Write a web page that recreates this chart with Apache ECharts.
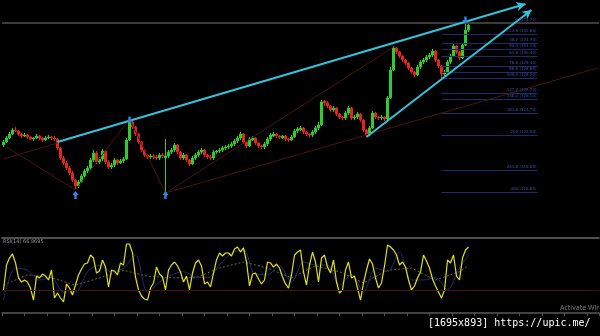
<!DOCTYPE html>
<html><head><meta charset="utf-8">
<script src="https://cdn.jsdelivr.net/npm/echarts@6/dist/echarts.min.js"></script>
<style>html,body{margin:0;padding:0;background:#000;}#c{width:600px;height:336px;}</style>
</head><body><div id="c"></div>
<script>
// bar slots (candles + empty space to the right, as on the terminal chart)
const slotCount = 199;
const categories = Array.from({length: slotCount}, (_, i) => String(i));

// candles: [open, close, low, high]
const candles = [
[121.5,121.8,121.3,122.0],[121.8,122.2,121.7,122.4],[122.2,122.6,122.1,122.8],[122.6,123.0,122.5,123.2],
[123.0,122.9,122.8,123.3],[122.9,122.6,122.4,123.0],[122.6,122.4,122.2,122.7],[122.4,122.5,122.3,122.7],
[122.5,122.3,122.1,122.6],[122.3,122.1,122.0,122.4],[122.1,122.2,121.9,122.3],[122.2,122.4,122.1,122.6],
[122.4,122.2,122.0,122.5],[122.2,122.0,121.8,122.3],[122.0,122.2,121.9,122.4],[122.2,122.3,122.1,122.5],
[122.3,122.2,122.0,122.4],[122.2,122.1,121.9,122.4],[122.1,121.2,121.0,122.2],[121.2,120.2,120.0,121.3],
[120.2,119.7,119.5,120.4],[119.7,119.2,119.0,119.9],[119.2,118.7,118.5,119.4],[118.7,118.0,117.8,118.9],
[118.0,117.4,117.1,118.1],[117.4,117.8,117.2,118.0],[117.8,118.4,117.7,118.6],[118.4,118.9,118.2,119.1],
[118.9,119.2,118.7,119.4],[119.2,120.0,119.0,120.2],[120.0,120.7,119.8,121.0],[120.7,119.8,119.6,120.9],
[119.8,120.1,119.6,120.3],[120.1,120.9,119.9,121.1],[120.9,119.8,119.6,121.0],[119.8,119.3,119.1,120.0],
[119.3,119.5,119.1,119.7],[119.5,120.0,119.3,120.2],[120.0,119.7,119.5,120.1],[119.7,119.9,119.6,120.1],
[119.9,120.1,119.7,120.3],[120.1,122.0,120.0,122.2],[122.0,123.8,121.9,124.1],[123.8,123.3,123.1,124.0],
[123.3,122.6,122.4,123.4],[122.6,121.8,121.6,122.7],[121.8,121.0,120.8,121.9],[121.0,120.5,120.3,121.1],
[120.5,120.3,120.1,120.6],[120.3,120.4,120.1,120.6],[120.4,120.3,120.1,120.6],[120.3,120.2,120.0,120.5],
[120.2,120.5,120.0,120.7],[120.5,120.4,120.2,120.7],[120.2,120.4,116.7,122.1],[120.4,120.8,120.2,121.0],
[120.8,121.0,120.6,121.2],[121.0,121.5,120.8,121.7],[121.5,120.8,120.6,121.6],[120.8,120.2,120.0,120.9],
[120.2,120.5,120.0,120.7],[120.5,120.0,119.8,120.6],[120.0,119.6,119.4,120.1],[119.6,120.2,119.5,120.4],
[120.2,120.5,120.0,120.7],[120.5,120.8,120.3,121.0],[120.8,121.0,120.6,121.2],[121.0,120.5,120.3,121.1],
[120.5,120.3,120.1,120.6],[120.3,120.2,120.0,120.5],[120.2,120.8,120.0,121.0],[120.8,120.9,120.6,121.0],
[120.9,121.0,120.7,121.2],[121.0,121.2,120.8,121.4],[121.2,121.3,121.0,121.5],[121.3,121.4,121.1,121.6],
[121.4,121.6,121.2,121.8],[121.6,121.9,121.4,122.1],[121.9,122.2,121.7,122.4],[122.2,122.6,122.0,122.8],
[122.6,121.8,121.6,122.7],[121.8,121.4,121.2,121.9],[121.4,122.1,121.3,122.3],[122.0,122.2,121.9,122.4],
[122.2,121.7,121.5,122.3],[121.7,121.4,121.2,121.8],[121.4,121.3,121.1,121.5],[121.3,121.6,121.1,121.8],
[121.6,122.1,121.4,122.3],[122.1,122.5,121.9,122.7],[122.4,122.6,122.3,122.8],[122.6,122.4,122.2,122.7],
[122.4,122.3,122.1,122.5],[122.2,122.4,122.1,122.5],[122.4,122.1,121.9,122.5],[122.1,122.0,121.8,122.2],
[122.0,122.3,121.9,122.5],[122.3,122.9,122.2,123.1],[122.9,123.1,122.7,123.3],[123.0,123.2,122.9,123.4],
[123.2,122.8,122.6,123.3],[122.8,122.6,122.4,122.9],[122.6,122.5,122.3,122.7],[122.5,122.8,122.3,123.0],
[122.8,123.2,122.6,123.4],[123.2,123.5,123.0,123.8],[123.5,125.8,123.4,126.0],[125.9,125.7,125.4,126.0],
[125.7,125.4,125.2,125.9],[125.4,125.0,124.8,125.5],[125.0,125.2,124.8,125.4],[125.2,124.6,124.4,125.3],
[124.6,124.3,124.1,124.7],[124.3,124.2,124.0,124.4],[124.2,124.7,124.0,124.9],[124.7,125.2,124.5,125.4],
[125.2,124.2,124.0,125.3],[124.2,124.3,124.0,124.5],[124.3,124.6,124.1,124.8],[124.6,124.0,123.8,124.7],
[124.0,123.0,122.8,124.1],[123.0,122.5,122.3,123.1],[122.5,123.2,122.4,123.4],[123.2,124.7,123.1,124.9],
[124.7,124.3,124.1,124.8],[124.3,124.2,124.0,124.4],[124.2,124.3,124.0,124.5],[124.3,124.1,123.9,124.4],
[124.1,126.2,124.0,126.4],[126.2,129.0,126.1,129.3],[129.0,131.2,128.9,131.4],[131.2,130.8,130.6,131.3],
[130.8,130.4,130.2,130.9],[130.4,130.0,129.8,130.5],[130.0,129.7,129.5,130.1],[129.7,129.2,129.0,129.8],
[129.2,128.8,128.6,129.3],[128.8,128.5,128.3,128.9],[128.5,129.3,128.4,129.5],[129.3,129.8,129.1,130.0],
[129.8,130.0,129.6,130.2],[130.0,130.3,129.8,130.5],[130.3,130.5,130.1,130.7],[130.5,130.9,130.3,131.1],
[130.9,130.0,129.8,131.0],[130.0,129.4,129.2,130.1],[129.4,128.6,128.2,129.5],[128.6,128.8,128.4,129.0],
[128.8,129.8,128.7,130.0],[129.8,130.4,129.6,130.6],[130.4,131.4,130.3,131.6],[131.4,130.8,130.6,131.5],
[130.8,130.2,130.0,130.9],[130.2,131.5,130.1,131.7],[131.5,133.0,131.4,133.7],[133.0,133.5,132.8,133.6]
];

// oscillator (one value per candle)
const oscValues = [
30.7,64.0,73.3,78.7,66.7,46.7,41.3,44.0,41.3,33.3,17.3,49.3,46.7,52.0,49.3,44.0,57.3,20.0,26.7,20.0,
14.7,38.7,33.3,24.0,37.3,50.7,58.7,65.3,66.7,77.3,73.3,53.3,56.0,70.7,61.3,34.7,57.3,56.0,50.7,66.7,
64.0,92.0,92.0,80.0,48.0,30.7,22.7,18.7,17.3,33.3,40.0,61.3,52.0,48.0,30.7,57.3,64.0,68.0,62.7,54.7,
41.3,49.3,30.7,53.3,66.7,70.7,62.7,38.7,41.3,34.7,53.3,70.7,80.0,76.0,80.0,80.0,76.0,85.3,88.0,81.3,
86.7,68.0,36.0,52.0,53.3,45.3,38.7,44.0,68.0,66.7,61.3,65.3,60.0,48.0,38.7,33.3,50.7,77.3,81.3,84.0,
54.7,37.3,64.0,81.3,68.0,41.3,73.3,77.3,61.3,53.3,70.7,41.3,26.7,30.7,57.3,68.0,46.7,49.3,33.3,17.3,
40.0,57.3,72.0,65.3,46.7,33.3,40.0,62.7,90.7,88.0,84.0,77.3,64.0,68.0,61.3,44.0,30.7,36.0,46.7,54.7,
77.3,69.3,60.0,45.3,36.0,28.0,20.0,30.7,70.7,66.7,77.3,49.3,44.0,73.3,84.0,88.0
];
// signal line (blue) and slow average (dashed): [bar index, value]
const signalLine = [[0,17],[4,60],[8,57],[12,44],[16,47],[20,28],[24,28],[28,55],[32,64],[36,55],[40,60],
[44,77],[48,28],[52,41],[56,51],[60,55],[64,48],[68,47],[72,64],[76,80],[80,84],[84,51],[88,51],[92,63],
[96,41],[100,68],[104,64],[108,64],[112,37],[116,51],[120,28],[124,60],[128,55],[132,81],[136,44],[140,44],
[144,47],[148,31],[152,60],[155,77]];
const slowLine = [[0,37],[8,51],[16,47],[24,37],[32,47],[40,57],[48,49],[56,47],[64,47],[72,60],[80,68],
[88,60],[96,47],[104,63],[112,55],[120,40],[128,57],[136,60],[144,44],[152,55],[155,63]];
const oscLevel = 30;

// Fibonacci levels
const fibLabels = ['0 (133.70)','23.6 (132.60)','38.2 (131.70)','50.0 (131.10)','61.8 (130.40)','78.6 (129.40)',
'88.6 (128.80)','100.0 (128.20)','127.2 (126.70)','138.2 (126.10)','161.8 (124.70)','200 (122.50)','261.8 (119.00)','300 (116.80)'];
const fibPrices = [133.70,132.60,131.70,131.10,130.40,129.40,128.80,128.20,126.70,126.10,124.70,122.50,119.00,116.80];
const fibFrom = 146, fibTo = 178;
const pricePeak = 133.70;

// trend lines and zigzag: [bar index, price]
const trendUpper = [[18,121.8],[174,135.6]];
const trendLower = [[121,122.3],[176,135.0]];
const zigzag = [
 [[0,120.1],[18,121.7]], [[1,121.3],[24,117.0]], [[24,117.0],[42,124.1]],
 [[42,124.1],[54,116.7]], [[54,116.7],[130,131.3]], [[54,116.7],[198,129.2]]
];
const upArrows = [[24,116.5],[54,116.5]];
const downMarks = [[42,124.0],[154,134.0]];

const upPath = 'path://M5,0 L10,5 L7,5 L7,10 L3,10 L3,5 L0,5 Z';
const downPath = 'path://M3,0 L7,0 L7,5 L10,5 L5,10 L0,5 L3,5 Z';

const chart = echarts.init(document.getElementById('c'), null, {renderer: 'canvas'});
const hidden = {show: false};
chart.setOption({
  animation: false,
  backgroundColor: '#000',
  grid: [
    {left: 2, width: 597, top: 0, height: 235},
    {left: 2, width: 597, top: 238, height: 75}
  ],
  xAxis: [
    {type: 'category', gridIndex: 0, data: categories, axisLine: hidden, axisTick: hidden, axisLabel: hidden, splitLine: hidden},
    {type: 'category', gridIndex: 1, data: categories, position: 'bottom',
      axisLine: {show: true, onZero: false, lineStyle: {color: '#5a5a5a', width: 1.5}}, axisTick: hidden, axisLabel: hidden, splitLine: hidden},
    {type: 'value', gridIndex: 1, min: 0, max: 199, interval: 7.5, position: 'bottom',
      axisLine: {show: false, onZero: false}, axisTick: {show: true, length: 3, lineStyle: {color: '#555'}}, axisLabel: hidden, splitLine: hidden},
    {type: 'category', gridIndex: 1, data: categories, position: 'top',
      axisLine: {show: true, onZero: false, lineStyle: {color: '#6a6a6a', width: 1.5}}, axisTick: hidden, axisLabel: hidden, splitLine: hidden}
  ],
  yAxis: [
    {type: 'value', gridIndex: 0, min: 112.5, max: 136, axisLine: hidden, axisTick: hidden, axisLabel: hidden, splitLine: hidden},
    {type: 'value', gridIndex: 1, min: 0, max: 100, axisLine: hidden, axisTick: hidden, axisLabel: hidden, splitLine: hidden}
  ],
  series: [
    { // fib lines + price line
      type: 'line', xAxisIndex: 0, yAxisIndex: 0, data: [], z: 1,
      markLine: {
        silent: true, symbol: ['none', 'none'],
        label: {show: true, position: 'insideEndTop', formatter: '{b}', color: '#3d52a8', fontSize: 4, distance: 1, fontFamily: 'DejaVu Sans'},
        lineStyle: {color: '#1f2b70', width: 1, type: 'solid'},
        data: fibPrices.map((p, i) => [{coord: [fibFrom, p], name: fibLabels[i]}, {coord: [fibTo, p]}])
      }
    },
    {
      type: 'line', xAxisIndex: 0, yAxisIndex: 0, data: [], z: 1,
      markLine: {silent: true, symbol: ['none', 'none'], label: hidden,
        lineStyle: {color: '#3c3c3c', width: 2, type: 'solid'},
        data: [{yAxis: pricePeak}]}
    },
    { // zigzag
      type: 'line', xAxisIndex: 0, yAxisIndex: 0, data: [], z: 2,
      markLine: {silent: true, symbol: ['none', 'none'], label: hidden,
        lineStyle: {color: '#4a1512', width: 1, type: 'solid'},
        data: zigzag.map(s => [{coord: s[0]}, {coord: s[1]}])}
    },
    {
      type: 'candlestick', xAxisIndex: 0, yAxisIndex: 0, data: candles, barWidth: 2, z: 3,
      itemStyle: {color: '#2fcb2f', color0: '#e3261e', borderColor: '#2fcb2f', borderColor0: '#e3261e', borderWidth: 1},
      markPoint: {
        silent: true, label: hidden,
        data: upArrows.map(c => ({coord: c, symbol: upPath, symbolSize: [6, 8], itemStyle: {color: '#3b82e6'}}))
          .concat(downMarks.map(c => ({coord: c, symbol: downPath, symbolSize: [6, 7], itemStyle: {color: '#3b82e6'}})))
      }
    },
    { // cyan trend lines
      type: 'line', xAxisIndex: 0, yAxisIndex: 0, data: [], z: 5,
      markLine: {silent: true, symbol: ['none', 'arrow'], symbolSize: [7, 9], label: hidden,
        lineStyle: {color: '#33c3dc', width: 2, type: 'solid'},
        data: [[{coord: trendUpper[0]}, {coord: trendUpper[1]}], [{coord: trendLower[0]}, {coord: trendLower[1]}]]}
    },
    {
      type: 'line', xAxisIndex: 1, yAxisIndex: 1, data: [], z: 1,
      markLine: {silent: true, symbol: ['none', 'none'], label: hidden,
        lineStyle: {color: '#4a1010', width: 1, type: 'solid'}, data: [{yAxis: oscLevel}]}
    },
    {
      type: 'line', xAxisIndex: 1, yAxisIndex: 1, data: slowLine, showSymbol: false, connectNulls: true, z: 2,
      lineStyle: {color: '#6d6a3a', width: 1, type: [2, 2]}
    },
    {
      type: 'line', xAxisIndex: 1, yAxisIndex: 1, data: signalLine, showSymbol: false, smooth: 0.3, z: 2,
      lineStyle: {color: '#25297a', width: 1}
    },
    {
      type: 'line', xAxisIndex: 1, yAxisIndex: 1, data: oscValues, showSymbol: false, z: 3,
      lineStyle: {color: '#e2e21e', width: 1.2}
    }
  ],
  graphic: [
    {type: 'text', left: 3, top: 239, style: {text: 'RSI(14) 66.8695', fill: '#9a9a9a', font: '5px "DejaVu Sans"'}},
    {type: 'text', left: 560, top: 304, style: {text: 'Activate Wir', fill: '#7a7a7a', font: '7px "Noto Sans"'}},
    {type: 'text', left: 428, top: 318, style: {text: '[1695x893] https://upic.me/', fill: '#ffffff', font: '10px "DejaVu Sans Mono"'}}
  ]
});
</script>
</body></html>
